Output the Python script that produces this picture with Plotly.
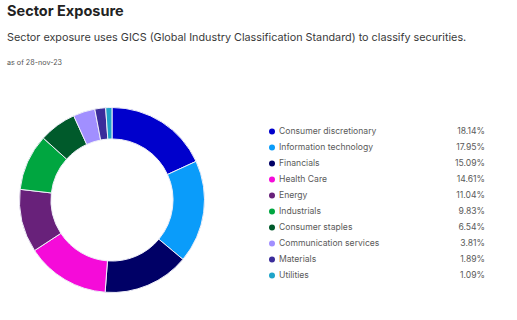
import plotly.graph_objects as go

sectors = ["Consumer discretionary", "Information technology", "Financials", "Health Care",
           "Energy", "Industrials", "Consumer staples", "Communication services",
           "Materials", "Utilities"]
weights = [18.14, 17.95, 15.09, 14.61, 11.04, 9.83, 6.54, 3.81, 1.89, 1.09]
colors = ["#0000CC", "#0A9CFA", "#000066", "#F50BD9", "#68217A", "#00A640",
          "#005A2B", "#A18FFF", "#3B2D9B", "#1FA4C9"]

W, H = 517, 320
rows = list(range(len(sectors)))
row_y0, row_dy = 131.5, 16.0
ys = [row_y0 + i * row_dy for i in rows]
pct_labels = [f"{v:.2f}%" for v in weights]

fig = go.Figure()

cx, cy, r = 112, 200, 92.5
fig.add_trace(go.Pie(
    labels=sectors, values=weights, hole=0.66, sort=False, direction="clockwise",
    rotation=0, marker=dict(colors=colors, line=dict(color="#EEEEF8", width=1)),
    textinfo="none", showlegend=False, hoverinfo="label+value",
    domain=dict(x=[(cx - r) / W, (cx + r) / W], y=[(H - cy - r) / H, (H - cy + r) / H]),
))

fig.add_trace(go.Scatter(
    x=[272] * len(rows), y=ys, mode="markers",
    marker=dict(color=colors, size=6), showlegend=False, hoverinfo="skip",
    xaxis="x", yaxis="y",
))
fig.add_trace(go.Scatter(
    x=[279] * len(rows), y=ys, mode="text", text=sectors, textposition="middle right",
    textfont=dict(family="Inter, Roboto, sans-serif", size=8.6, color="#5a5a5a"),
    showlegend=False, hoverinfo="skip",
))
fig.add_trace(go.Scatter(
    x=[485] * len(rows), y=ys, mode="text", text=pct_labels, textposition="middle left",
    textfont=dict(family="Inter, Roboto, sans-serif", size=8.6, color="#5a5a5a"),
    showlegend=False, hoverinfo="skip",
))

fig.update_layout(
    width=W, height=H, margin=dict(l=0, r=0, t=0, b=0),
    paper_bgcolor="white", plot_bgcolor="rgba(0,0,0,0)",
    xaxis=dict(range=[0, W], domain=[0, 1], visible=False, fixedrange=True),
    yaxis=dict(range=[H, 0], domain=[0, 1], visible=False, fixedrange=True),
    annotations=[
        dict(text="<b>Sector Exposure</b>", x=5 / W, y=1 - 0 / H, xref="paper", yref="paper",
             xanchor="left", yanchor="top", showarrow=False,
             font=dict(family="Inter, Roboto, sans-serif", size=14.5, color="#222222")),
        dict(text="Sector exposure uses GICS (Global Industry Classification Standard) to classify securities.",
             x=5 / W, y=1 - 29 / H, xref="paper", yref="paper", xanchor="left", yanchor="top",
             showarrow=False, font=dict(family="Inter, Roboto, sans-serif", size=10.8, color="#3a3a3a")),
        dict(text="as of 28-nov-23", x=5 / W, y=1 - 56 / H, xref="paper", yref="paper",
             xanchor="left", yanchor="top", showarrow=False,
             font=dict(family="Inter, Roboto, sans-serif", size=7.2, color="#555555")),
    ],
)

fig.write_html("out.html")
